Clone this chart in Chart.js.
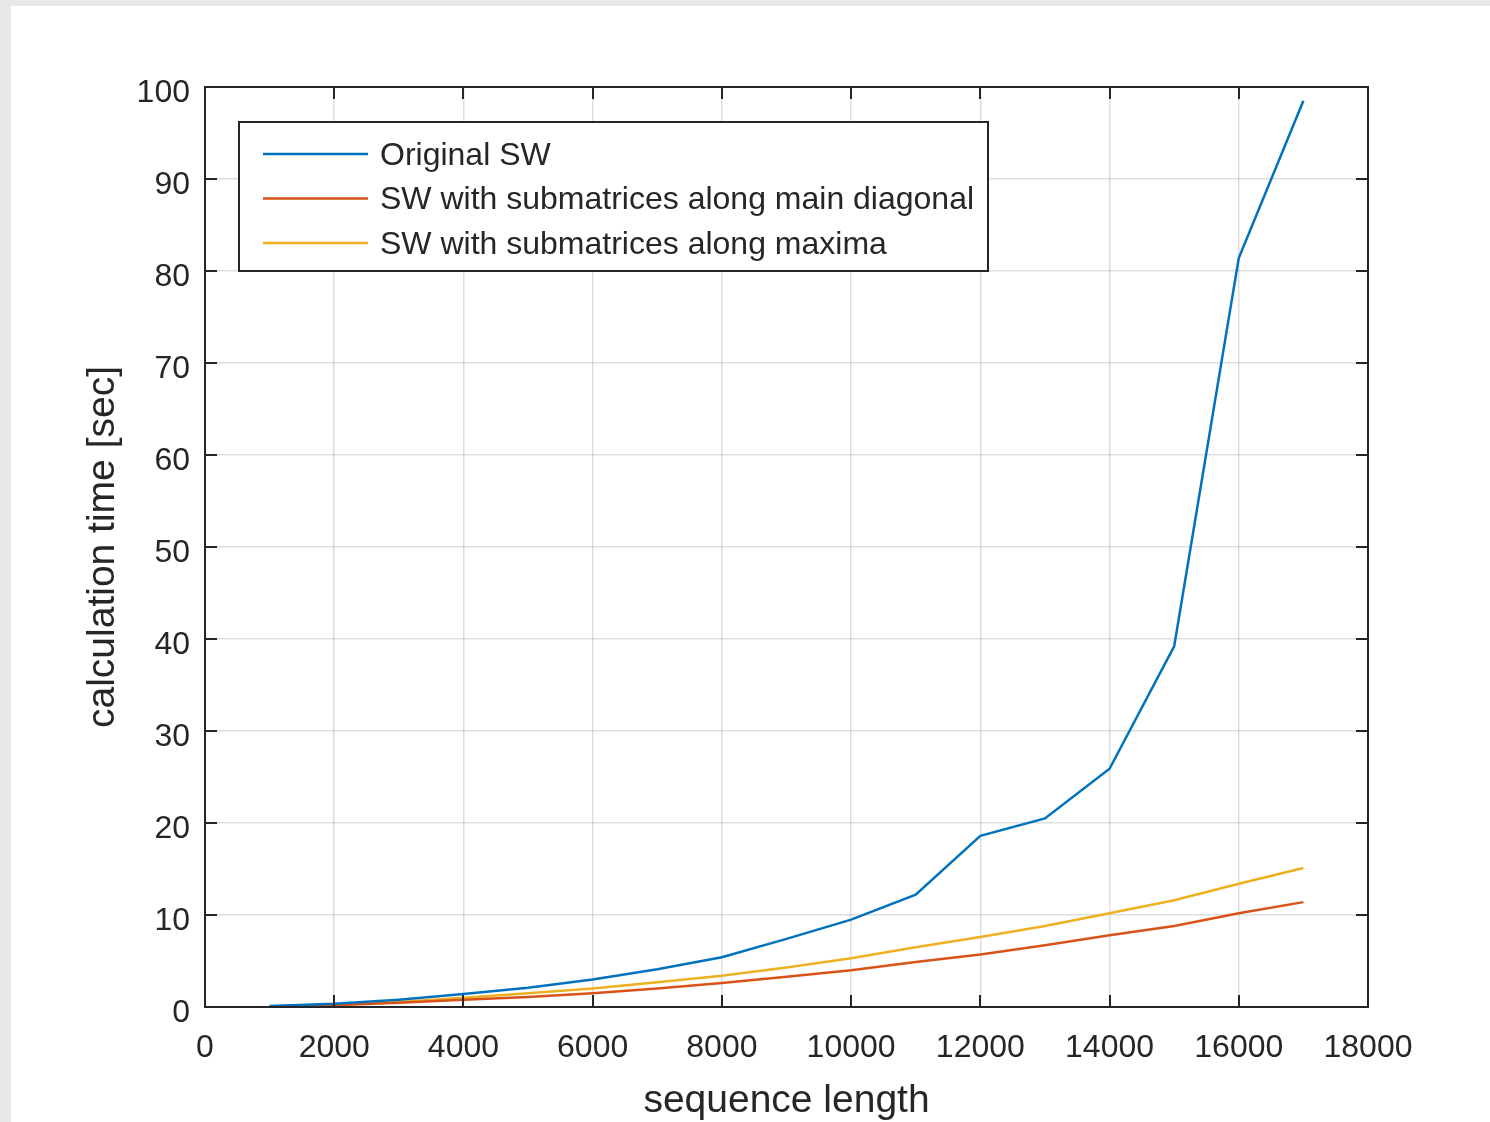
<!DOCTYPE html>
<html>
<head>
<meta charset="utf-8">
<script src="https://cdn.jsdelivr.net/npm/chart.js@4.4.1/dist/chart.umd.min.js"></script>
<style>
  html, body { margin: 0; padding: 0; background: #ffffff; }
  #c { display: block; }
</style>
</head>
<body>
<canvas id="c" width="1490" height="1122"></canvas>
<script>
// ---- data ----
const seqLength = [1000, 2000, 3000, 4000, 5000, 6000, 7000, 8000, 9000, 10000, 11000, 12000, 13000, 14000, 15000, 16000, 17000];
const originalSW = [0.1, 0.35, 0.8, 1.4, 2.1, 3.0, 4.1, 5.4, 7.4, 9.5, 12.2, 18.6, 20.5, 25.9, 39.2, 81.4, 98.5];
const swMainDiagonal = [0.05, 0.2, 0.45, 0.8, 1.1, 1.5, 2.0, 2.6, 3.3, 4.0, 4.9, 5.7, 6.7, 7.8, 8.8, 10.2, 11.4];
const swMaxima = [0.05, 0.25, 0.55, 1.0, 1.5, 2.0, 2.7, 3.4, 4.3, 5.3, 6.5, 7.6, 8.8, 10.2, 11.6, 13.4, 15.1];
const seriesNames = ['Original SW', 'SW with submatrices along main diagonal', 'SW with submatrices along maxima'];
const seriesColors = ['#0072BD', '#D95319', '#EDB120'];
const xTicks = [0, 2000, 4000, 6000, 8000, 10000, 12000, 14000, 16000, 18000];
const yTicks = [0, 10, 20, 30, 40, 50, 60, 70, 80, 90, 100];
const xTitle = 'sequence length';
const yTitle = 'calculation time [sec]';

const FONT = '"Liberation Sans", Arial, Helvetica, sans-serif';
const TXT = '#262626';
const AXIS = '#262626';
const GRID = 'rgba(38,38,38,0.15)';

function pts(ys) { return seqLength.map((x, i) => ({ x: x, y: ys[i] })); }

const bgPlugin = {
  id: 'bg',
  beforeDraw(chart) {
    const ctx = chart.ctx;
    ctx.save();
    ctx.fillStyle = '#e8e8e8';
    ctx.fillRect(0, 0, chart.width, chart.height);
    ctx.fillStyle = '#ffffff';
    ctx.fillRect(11, 6, chart.width - 11, chart.height - 6);
    ctx.restore();
  }
};

const boxPlugin = {
  id: 'box',
  afterDatasetsDraw(chart) {
    const { ctx, chartArea: a, scales } = chart;
    const xs = scales.x, ys = scales.y;
    ctx.save();
    ctx.strokeStyle = AXIS;
    ctx.lineWidth = 2;
    const tl = 12;
    ctx.beginPath();
    xTicks.forEach(v => {
      const px = Math.round(xs.getPixelForValue(v));
      ctx.moveTo(px, a.bottom); ctx.lineTo(px, a.bottom - tl);
      ctx.moveTo(px, a.top); ctx.lineTo(px, a.top + tl);
    });
    yTicks.forEach(v => {
      const py = Math.round(ys.getPixelForValue(v));
      ctx.moveTo(a.left, py); ctx.lineTo(a.left + tl, py);
      ctx.moveTo(a.right, py); ctx.lineTo(a.right - tl, py);
    });
    ctx.stroke();
    ctx.strokeRect(a.left, a.top, a.right - a.left, a.bottom - a.top);

    // legend box
    const lx = a.left + 34, ly = a.top + 35, lw = 749, lh = 149;
    ctx.fillStyle = '#ffffff';
    ctx.fillRect(lx, ly, lw, lh);
    ctx.strokeRect(lx, ly, lw, lh);
    ctx.font = '32px ' + FONT;
    ctx.textBaseline = 'middle';
    ctx.textAlign = 'left';
    chart.data.datasets.forEach((ds, i) => {
      const y = ly + 32 + i * 44.5;
      ctx.strokeStyle = ds.borderColor;
      ctx.lineWidth = 2.4;
      ctx.beginPath();
      ctx.moveTo(lx + 24, y); ctx.lineTo(lx + 129, y);
      ctx.stroke();
      ctx.fillStyle = TXT;
      ctx.fillText(ds.label, lx + 141, y + 2);
    });
    ctx.restore();
  }
};

new Chart(document.getElementById('c'), {
  type: 'line',
  data: {
    datasets: [
      { label: seriesNames[0], data: pts(originalSW), borderColor: seriesColors[0] },
      { label: seriesNames[1], data: pts(swMainDiagonal), borderColor: seriesColors[1] },
      { label: seriesNames[2], data: pts(swMaxima), borderColor: seriesColors[2] }
    ]
  },
  options: {
    responsive: false,
    animation: false,
    devicePixelRatio: 1,
    layout: { padding: { left: 0, top: 87, right: 122, bottom: 0 } },
    elements: {
      line: { borderWidth: 2.5, tension: 0, fill: false },
      point: { radius: 0, hoverRadius: 0 }
    },
    plugins: { legend: { display: false }, tooltip: { enabled: false } },
    scales: {
      x: {
        type: 'linear',
        min: 0, max: 18000,
        afterFit(s) { s.height = 115; },
        afterBuildTicks(s) { s.ticks = xTicks.map(v => ({ value: v })); },
        grid: { color: GRID, lineWidth: 1.5, drawTicks: false },
        border: { display: false },
        ticks: {
          color: TXT, padding: 22, maxRotation: 0, autoSkip: false,
          font: { family: FONT, size: 32 },
          callback: v => String(v)
        },
        title: {
          display: true, text: xTitle, color: TXT,
          font: { family: FONT, size: 39, lineHeight: 1.2 },
          padding: { top: 0, bottom: -3 }
        }
      },
      y: {
        type: 'linear',
        min: 0, max: 100,
        afterFit(s) { s.width = 205; },
        afterBuildTicks(s) { s.ticks = yTicks.map(v => ({ value: v })); },
        grid: { color: GRID, lineWidth: 1.5, drawTicks: false },
        border: { display: false },
        ticks: {
          color: TXT, padding: 15, labelOffset: 6, autoSkip: false,
          font: { family: FONT, size: 32 },
          callback: v => String(v)
        },
        title: {
          display: true, text: yTitle, color: TXT,
          font: { family: FONT, size: 39, lineHeight: 1.2 },
          padding: { top: 80, bottom: 0 }
        }
      }
    }
  },
  plugins: [bgPlugin, boxPlugin]
});
</script>
</body>
</html>
